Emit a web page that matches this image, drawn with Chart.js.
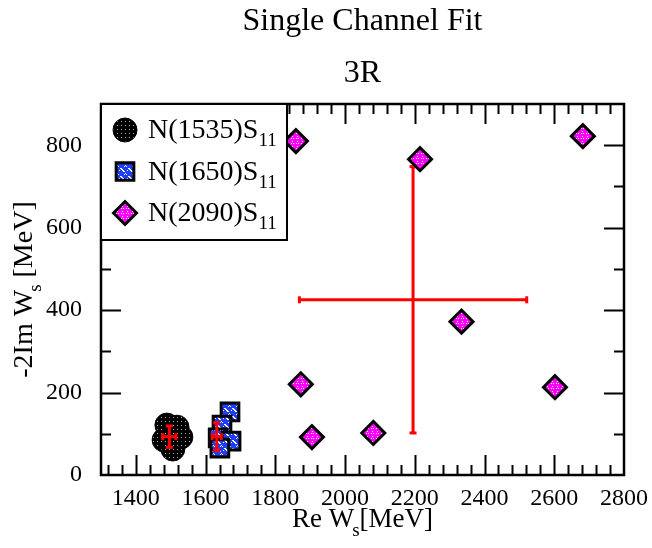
<!DOCTYPE html>
<html>
<head>
<meta charset="utf-8">
<script src="https://cdn.jsdelivr.net/npm/chart.js@4.4.0/dist/chart.umd.min.js"></script>
<style>
  html, body { margin: 0; padding: 0; background: #fff; }
  #wrap { width: 652px; height: 548px; }
</style>
</head>
<body>
<div id="wrap"><canvas id="poleChart" width="652" height="548"></canvas></div>
<script>
// pole positions [MeV]
const n1535Re = [1489, 1481, 1529, 1506, 1518];
const n1535Im = [121, 85, 92, 63, 116];
const n1650Re = [1670, 1647, 1636, 1673, 1641];
const n1650Im = [153, 121, 90, 82, 65];
const n2090Re = [1859, 2215, 2682, 2334, 1873, 1905, 2081, 2602];
const n2090Im = [810, 766, 822, 372, 220, 92, 102, 213];

// averages with spread (red crosses)
const meanRe = [1496, 1632, 2195];
const meanIm = [93, 93, 425];
const errRe = [19, 13, 326];
const errIm = [26, 34, 323];

const legendNames = ["N(1535)S", "N(1650)S", "N(2090)S"];
const legendSub = "11";
const xTicks = [1400, 1600, 1800, 2000, 2200, 2400, 2600, 2800];
const yTicks = [0, 200, 400, 600, 800];

const serif = "'Liberation Serif', 'DejaVu Serif', serif";
const canvas = document.getElementById("poleChart");
const mainCtx = canvas.getContext("2d");

// fill patterns like the grace symbols
function makePattern(size, bg, fg, dots) {
    const c = document.createElement("canvas");
    c.width = size; c.height = size;
    const g = c.getContext("2d");
    g.fillStyle = bg;
    g.fillRect(0, 0, size, size);
    g.fillStyle = fg;
    dots.forEach(d => g.fillRect(d[0], d[1], d[2] || 1, d[3] || 1));
    return mainCtx.createPattern(c, "repeat");
}
const blackDots = makePattern(4, "#000", "#b0b0b0", [[1, 1]]);
const blueSwirl = makePattern(8, "#1f3ff5", "#ffffff",
    [[0, 0, 2], [1, 1, 2], [2, 2, 2], [3, 3, 2], [5, 5, 1], [6, 6, 1], [7, 2, 1], [4, 6, 1]]);
const pinkDots = makePattern(5, "#ff00ff", "#ffffff", [[2, 1], [1, 3], [3, 3]]);

function pts(xs, ys) {
    return xs.map((x, i) => ({ x: x, y: ys[i] }));
}

const poleSets = [
    { label: legendNames[0], data: pts(n1535Re, n1535Im), pointStyle: "circle", pointRadius: 12,
      pointBackgroundColor: blackDots, pointBorderColor: "#000", pointBorderWidth: 1, order: 5 },
    { label: legendNames[1], data: pts(n1650Re, n1650Im), pointStyle: "rect", pointRadius: 12.5,
      pointBackgroundColor: blueSwirl, pointBorderColor: "#000", pointBorderWidth: 3, order: 4 },
    { label: legendNames[2], data: pts(n2090Re, n2090Im), pointStyle: "rectRot", pointRadius: 11.5,
      pointBackgroundColor: pinkDots, pointBorderColor: "#000", pointBorderWidth: 3, order: 2 }
];

// error bars as short line datasets with end caps
const errSets = [];
meanRe.forEach((m, i) => {
    const ord = i === 2 ? 3 : 1;
    errSets.push({ label: "", showLine: true, borderColor: "#ff0000", borderWidth: 3,
        pointStyle: "line", rotation: 90, pointRadius: 3.5, pointBorderColor: "#ff0000",
        pointBorderWidth: 3, order: ord,
        data: [{ x: m - errRe[i], y: meanIm[i] }, { x: m + errRe[i], y: meanIm[i] }] });
    errSets.push({ label: "", showLine: true, borderColor: "#ff0000", borderWidth: 3,
        pointStyle: "line", rotation: 0, pointRadius: 3.5, pointBorderColor: "#ff0000",
        pointBorderWidth: 3, order: ord,
        data: [{ x: m, y: meanIm[i] - errIm[i] }, { x: m, y: meanIm[i] + errIm[i] }] });
});

// text with a lowered subscript
function richText(ctx, parts, x, y, align) {
    let w = 0;
    parts.forEach(p => { ctx.font = p.size + "px " + serif; p.w = ctx.measureText(p.t).width; w += p.w + (p.dx || 0); });
    let cx = align === "center" ? x - w / 2 : x;
    ctx.textAlign = "left";
    ctx.textBaseline = "alphabetic";
    parts.forEach(p => {
        cx += p.dx || 0;
        ctx.font = p.size + "px " + serif;
        ctx.fillText(p.t, cx, y + (p.dy || 0));
        cx += p.w;
    });
}

// frame with inward ticks on all four sides
const framePlugin = {
    id: "frame",
    beforeDatasetsDraw(chart) {
        const ctx = chart.ctx, a = chart.chartArea;
        const xs = chart.scales.x, ys = chart.scales.y;
        ctx.save();
        ctx.strokeStyle = "#000";
        ctx.lineWidth = 2;
        ctx.beginPath();
        for (let v = 1320; v < 2800; v += 40) {
            const px = Math.round(xs.getPixelForValue(v)) + 0.5;
            const len = v % 200 === 0 ? 20 : 10;
            ctx.moveTo(px, a.bottom); ctx.lineTo(px, a.bottom - len);
            ctx.moveTo(px, a.top); ctx.lineTo(px, a.top + len);
        }
        for (let v = 100; v < 900; v += 100) {
            const py = Math.round(ys.getPixelForValue(v)) + 0.5;
            const len = v % 200 === 0 ? 20 : 10;
            ctx.moveTo(a.left, py); ctx.lineTo(a.left + len, py);
            ctx.moveTo(a.right, py); ctx.lineTo(a.right - len, py);
        }
        ctx.stroke();
        ctx.lineWidth = 2.5;
        ctx.strokeRect(a.left, a.top, a.right - a.left, a.bottom - a.top);
        ctx.restore();
    },
    afterDraw(chart) {
        const ctx = chart.ctx, a = chart.chartArea;
        ctx.save();
        // legend box
        ctx.fillStyle = "#fff";
        ctx.fillRect(a.left, a.top, 186, 136);
        ctx.strokeStyle = "#000";
        ctx.lineWidth = 2;
        ctx.strokeRect(a.left, a.top, 186, 136);
        poleSets.forEach((ds, i) => {
            const cy = a.top + 26 + i * 41.5;
            ctx.fillStyle = ds.pointBackgroundColor;
            ctx.strokeStyle = ds.pointBorderColor;
            ctx.lineWidth = ds.pointBorderWidth;
            Chart.helpers.drawPoint(ctx, { pointStyle: ds.pointStyle, rotation: 0,
                radius: ds.pointRadius, borderWidth: ds.pointBorderWidth }, a.left + 24, cy);
            ctx.fillStyle = "#000";
            richText(ctx, [{ t: ds.label, size: 28 }, { t: legendSub, size: 19, dy: 8 }], a.left + 47, cy + 8, "left");
        });
        // titles
        ctx.fillStyle = "#000";
        const mid = (a.left + a.right) / 2;
        richText(ctx, [{ t: "Single Channel Fit", size: 32 }], mid, 30, "center");
        richText(ctx, [{ t: "3R", size: 32 }], mid, 82, "center");
        richText(ctx, [{ t: "Re W", size: 27 }, { t: "s", size: 19, dy: 9, dx: -2 }, { t: "[MeV]", size: 27 }], mid, 527, "center");
        ctx.translate(32, (a.top + a.bottom) / 2);
        ctx.rotate(-Math.PI / 2);
        richText(ctx, [{ t: "-2Im W", size: 28 }, { t: "s", size: 19, dy: 9, dx: -2 }, { t: " [MeV]", size: 28 }], 0, 0, "center");
        ctx.restore();
    }
};

const tickFont = { family: serif, size: 24 };

new Chart(canvas, {
    type: "scatter",
    data: { datasets: errSets.concat(poleSets) },
    options: {
        responsive: false,
        animation: false,
        layout: { padding: { left: 0, top: 104, right: 28, bottom: 0 } },
        plugins: { legend: { display: false }, tooltip: { enabled: false }, title: { display: false } },
        scales: {
            x: {
                type: "linear", min: 1300, max: 2800,
                grid: { display: false }, border: { display: false },
                ticks: { font: tickFont, color: "#000", padding: 1, maxRotation: 0, autoSkip: false,
                         callback: v => String(v) },
                afterBuildTicks: s => { s.ticks = xTicks.map(v => ({ value: v })); },
                afterFit: s => { s.height = 73; }
            },
            y: {
                type: "linear", min: 0, max: 900,
                grid: { display: false }, border: { display: false },
                ticks: { font: tickFont, color: "#000", padding: 11, autoSkip: false,
                         callback: v => String(v) },
                afterBuildTicks: s => { s.ticks = yTicks.map(v => ({ value: v })); },
                afterFit: s => { s.width = 101; }
            }
        }
    },
    plugins: [framePlugin]
});
</script>
</body>
</html>
